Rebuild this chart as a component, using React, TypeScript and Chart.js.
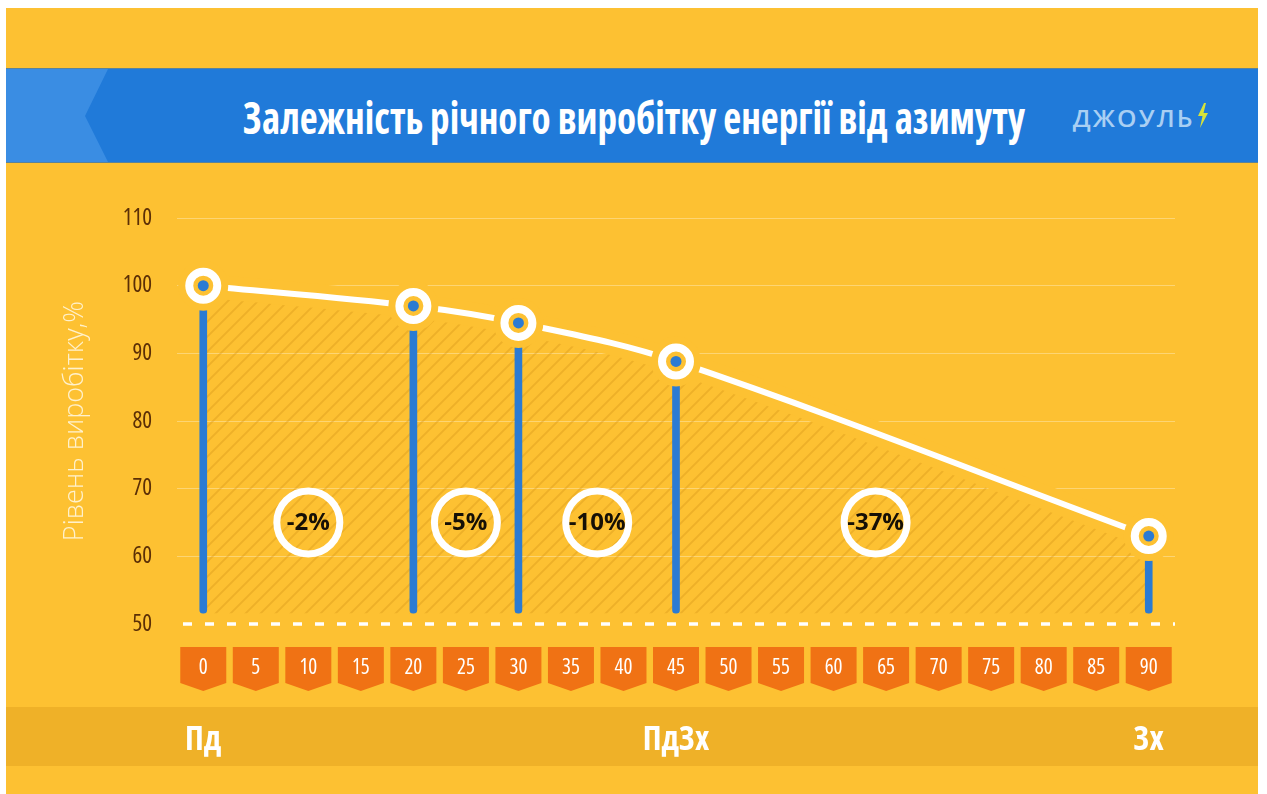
import React, { useEffect, useLayoutEffect, useRef } from 'react';
import { Chart, registerables } from 'chart.js';

Chart.register(...registerables);

// ---------- data ----------
const TITLE = 'Залежність річного виробітку енергії від азимуту';
const LOGO = 'ДЖОУЛЬ';
const Y_TITLE = 'Рівень виробітку,%';
const AZIMUTHS = [0, 20, 30, 45, 90];
const OUTPUT = [100, 97, 94.5, 88.8, 63];
const X_TICKS = [0, 5, 10, 15, 20, 25, 30, 35, 40, 45, 50, 55, 60, 65, 70, 75, 80, 85, 90];
const Y_TICKS = [50, 60, 70, 80, 90, 100, 110];
const LOSS_AT = [10, 25, 37.5, 64];
const LOSS_LEVEL = 65;
const LOSS_LABELS = ['-2%', '-5%', '-10%', '-37%'];
const DIRECTIONS = ['Пд', 'ПдЗх', 'Зх'];
const DIRECTION_AT = [0, 45, 90];
const STEM_BASE = 51.6;
const BASE_LINE = 50;

// ---------- style ----------
const BG = '#FDC132';
const BAND = '#EFB128';
const BLUE = '#2B7BD3';
const ORANGE = '#F07214';
const FAMILY = "'Open Sans', 'DejaVu Sans', sans-serif";

function FitText({ text, width, style }: { text: string; width: number; style: React.CSSProperties }) {
  const ref = useRef<HTMLSpanElement>(null);
  useLayoutEffect(() => {
    const el = ref.current;
    if (!el) return;
    el.style.transform = 'none';
    const w = el.getBoundingClientRect().width;
    if (w > 0) el.style.transform = `scaleX(${width / w})`;
  }, [text, width]);
  return (
    <span ref={ref} style={{ display: 'inline-block', whiteSpace: 'nowrap', transformOrigin: 'center center', ...style }}>
      {text}
    </span>
  );
}

function makeHatch(): CanvasPattern | string {
  const p = document.createElement('canvas');
  p.width = 15;
  p.height = 15;
  const c = p.getContext('2d');
  if (!c) return 'rgba(0,0,0,0)';
  c.strokeStyle = 'rgba(214,150,26,0.4)';
  c.lineWidth = 1.8;
  c.beginPath();
  c.moveTo(-2, 17);
  c.lineTo(17, -2);
  c.moveTo(-2, 2);
  c.lineTo(2, -2);
  c.moveTo(13, 17);
  c.lineTo(17, 13);
  c.stroke();
  return c.createPattern(p, 'repeat') || 'rgba(0,0,0,0)';
}

const decor = {
  id: 'decor',
  beforeDraw(chart: any) {
    const { ctx, chartArea } = chart;
    const xs = chart.scales.x;
    const b = chartArea.bottom;
    ctx.save();
    ctx.fillStyle = BAND;
    ctx.fillRect(0, b + 83, chart.width, 59);
    ctx.fillStyle = ORANGE;
    X_TICKS.forEach((v) => {
      const px = xs.getPixelForValue(v);
      ctx.beginPath();
      ctx.moveTo(px - 23, b + 23);
      ctx.lineTo(px + 23, b + 23);
      ctx.lineTo(px + 23, b + 59);
      ctx.lineTo(px, b + 67);
      ctx.lineTo(px - 23, b + 59);
      ctx.closePath();
      ctx.fill();
    });
    ctx.restore();
  },
  beforeDatasetsDraw(chart: any) {
    const { ctx, chartArea } = chart;
    const y = chart.scales.y.getPixelForValue(BASE_LINE);
    ctx.save();
    ctx.strokeStyle = '#FFFFFF';
    ctx.lineWidth = 3.5;
    ctx.setLineDash([9, 13]);
    ctx.lineDashOffset = -6;
    ctx.beginPath();
    ctx.moveTo(chartArea.left, y);
    ctx.lineTo(chartArea.right, y);
    ctx.stroke();
    ctx.restore();
  },
  afterDatasetsDraw(chart: any) {
    const { ctx } = chart;
    const xs = chart.scales.x;
    const ys = chart.scales.y;
    ctx.save();
    ctx.fillStyle = '#161006';
    ctx.font = `bold 24px ${FAMILY}`;
    ctx.textAlign = 'center';
    ctx.textBaseline = 'middle';
    LOSS_LABELS.forEach((t, i) => {
      ctx.fillText(t, xs.getPixelForValue(LOSS_AT[i]), ys.getPixelForValue(LOSS_LEVEL) + 1);
    });
    ctx.restore();
  },
  afterDraw(chart: any) {
    const { ctx, chartArea } = chart;
    const xs = chart.scales.x;
    ctx.save();
    ctx.fillStyle = '#FFFFFF';
    ctx.font = `bold condensed 33px ${FAMILY}`;
    ctx.textAlign = 'center';
    ctx.textBaseline = 'middle';
    DIRECTIONS.forEach((t, i) => {
      ctx.fillText(t, xs.getPixelForValue(DIRECTION_AT[i]), chartArea.bottom + 117);
    });
    ctx.restore();
  },
};

function ChartCanvas() {
  const ref = useRef<HTMLCanvasElement>(null);
  useEffect(() => {
    if (!ref.current) return;
    const pts = AZIMUTHS.map((x, i) => ({ x, y: OUTPUT[i] }));
    const chart = new Chart(ref.current, {
      data: {
        datasets: [
          {
            type: 'line',
            data: pts,
            borderColor: BG,
            borderWidth: 24,
            backgroundColor: makeHatch() as any,
            fill: { value: STEM_BASE },
            pointRadius: 0,
            tension: 0.35,
            order: 10,
          },
          {
            type: 'bar',
            data: AZIMUTHS.map((x, i) => ({ x, y: [STEM_BASE, OUTPUT[i]] })) as any,
            backgroundColor: BLUE,
            barThickness: 7,
            borderRadius: 4,
            borderSkipped: false,
            order: 9,
          },
          {
            type: 'line',
            data: pts,
            borderColor: '#FFFFFF',
            borderWidth: 6,
            fill: false,
            pointRadius: 0,
            tension: 0.35,
            order: 8,
          },
          {
            type: 'line',
            data: pts,
            showLine: false,
            pointRadius: 25,
            pointBorderWidth: 0,
            pointBackgroundColor: BG,
            order: 7,
          },
          {
            type: 'line',
            data: pts,
            showLine: false,
            pointRadius: 14,
            pointBorderWidth: 8,
            pointBorderColor: '#FFFFFF',
            pointBackgroundColor: BG,
            order: 6,
          },
          {
            type: 'line',
            data: pts,
            showLine: false,
            pointRadius: 5.5,
            pointBorderWidth: 0,
            pointBackgroundColor: BLUE,
            order: 5,
          },
          {
            type: 'line',
            data: LOSS_AT.map((x) => ({ x, y: LOSS_LEVEL })),
            showLine: false,
            pointRadius: 31.5,
            pointBorderWidth: 7,
            pointBorderColor: '#FFFFFF',
            pointBackgroundColor: 'rgba(0,0,0,0)',
            order: 4,
          },
        ],
      } as any,
      options: {
        responsive: false,
        animation: false,
        events: [],
        layout: { padding: { top: 55, right: 83, left: 0, bottom: 0 } },
        plugins: { legend: { display: false }, tooltip: { enabled: false } },
        scales: {
          x: {
            type: 'linear',
            min: -2.5,
            max: 92.5,
            offset: false,
            afterBuildTicks: (s: any) => {
              s.ticks = X_TICKS.map((value) => ({ value }));
            },
            afterFit: (s: any) => {
              s.height = 170;
            },
            grid: { display: false, drawTicks: false },
            border: { display: false },
            ticks: {
              color: '#FFFFFF',
              font: { family: FAMILY, size: 21, weight: 'condensed' },
              padding: 31,
              autoSkip: false,
              maxRotation: 0,
              callback: (v: any) => String(v),
            },
          },
          y: {
            type: 'linear',
            min: 50,
            max: 110,
            afterBuildTicks: (s: any) => {
              s.ticks = Y_TICKS.map((value) => ({ value }));
            },
            afterFit: (s: any) => {
              s.width = 171;
            },
            grid: {
              drawTicks: false,
              color: (c: any) => (c.tick && c.tick.value === BASE_LINE ? 'rgba(0,0,0,0)' : 'rgba(255,255,255,0.32)'),
              lineWidth: 1,
            },
            border: { display: false },
            ticks: {
              color: '#5B2F06',
              font: { family: FAMILY, size: 23, weight: 'condensed' },
              padding: 25,
            },
            title: {
              display: true,
              text: Y_TITLE,
              color: '#FFF1CC',
              font: { family: FAMILY, size: 27, weight: '300' },
              padding: { top: 53, bottom: 0 },
            },
          },
        },
      } as any,
      plugins: [decor],
    });
    return () => chart.destroy();
  }, []);
  return (
    <canvas
      ref={ref}
      width={1252}
      height={631}
      style={{ position: 'absolute', left: 6, top: 163, width: 1252, height: 631 }}
    />
  );
}

export default function App() {
  return (
    <div style={{ position: 'fixed', left: 0, top: 0, width: 1267, height: 794, background: '#FFFFFF', overflow: 'hidden' }}>
      <div style={{ position: 'absolute', left: 6, top: 8, width: 1252, height: 786, background: BG }} />
      <div
        style={{
          position: 'absolute',
          left: 6,
          top: 68,
          width: 1252,
          height: 95,
          background: '#207AD9',
          borderTop: '1px solid rgba(150,140,90,0.5)',
          borderBottom: '1px solid rgba(150,140,90,0.5)',
          boxSizing: 'border-box',
        }}
      >
        <svg width={110} height={93} style={{ position: 'absolute', left: 0, top: 0 }}>
          <polygon points="0,0 102,0 79,47 102,93 0,93" fill="#3A8DE3" />
        </svg>
        <div
          style={{
            position: 'absolute',
            left: 0,
            top: 0,
            width: 1256,
            height: 96,
            display: 'flex',
            alignItems: 'center',
            justifyContent: 'center',
          }}
        >
          <FitText
            text={TITLE}
            width={782}
            style={{ fontFamily: FAMILY, fontStretch: 'condensed', fontWeight: 700, fontSize: 44, color: '#FFFFFF', lineHeight: '50px' }}
          />
        </div>
        <div style={{ position: 'absolute', left: 1067, top: 34, width: 122, height: 30, display: 'flex', alignItems: 'center', justifyContent: 'center' }}>
          <FitText
            text={LOGO}
            width={122}
            style={{ fontFamily: FAMILY, fontWeight: 600, fontSize: 23, color: '#A9CFF3', letterSpacing: 2, lineHeight: '30px' }}
          />
        </div>
        <svg width={14} height={26} style={{ position: 'absolute', left: 1190, top: 34 }}>
          <polygon points="8,0 2,13 6.5,13 4,25 12,10 7.5,10 10,0" fill="#D6E23A" />
        </svg>
      </div>
      <ChartCanvas />
    </div>
  );
}
